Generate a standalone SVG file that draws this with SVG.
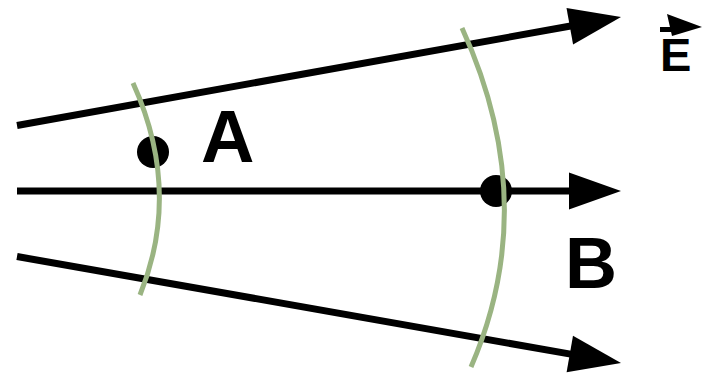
<svg xmlns="http://www.w3.org/2000/svg" width="702" height="375" viewBox="0 0 702 375">
<style>
.ln{stroke:#000;stroke-width:7;fill:none}
.hd{fill:#000}
.arc{stroke:#9AB482;stroke-width:5;fill:none}
.lbl{font-family:"Liberation Sans",Arial,sans-serif;font-weight:bold;fill:#000}
</style>
<rect width="702" height="375" fill="#fff"/>
<g id="connectors">
<line class="ln" x1="17" y1="125.5" x2="572" y2="25.8"/>
<polygon class="hd" points="621,17 573.1,44.4 566.5,8"/>
<line class="ln" x1="17" y1="191" x2="572" y2="191"/>
<polygon class="hd" points="621,191 569,209.5 569,172.5"/>
<line class="ln" x1="17" y1="256.5" x2="572" y2="354.4"/>
<polygon class="hd" points="621,363 566.6,372.2 573,335.8"/>
</g>
<g id="pointA"><circle cx="153" cy="152" r="16" fill="#000"/></g>
<g id="pointB"><circle cx="496" cy="191" r="16" fill="#000"/></g>
<g id="wavefronts">
<path class="arc" d="M133,83 Q182,191 140,295"/>
<path class="arc" d="M462,28 Q542,203 471,367"/>
</g>
<g id="labelA"><text class="lbl" x="201" y="162" font-size="74">A</text></g>
<g id="labelB"><text class="lbl" x="565" y="288" font-size="72">B</text></g>
<g id="labelE">
<text class="lbl" x="660" y="71" font-size="47">E</text>
<line x1="660" y1="29.5" x2="672" y2="29.5" stroke="#000" stroke-width="5"/>
<polygon class="hd" points="667,14 702,27 672,36"/>
</g>
</svg>
